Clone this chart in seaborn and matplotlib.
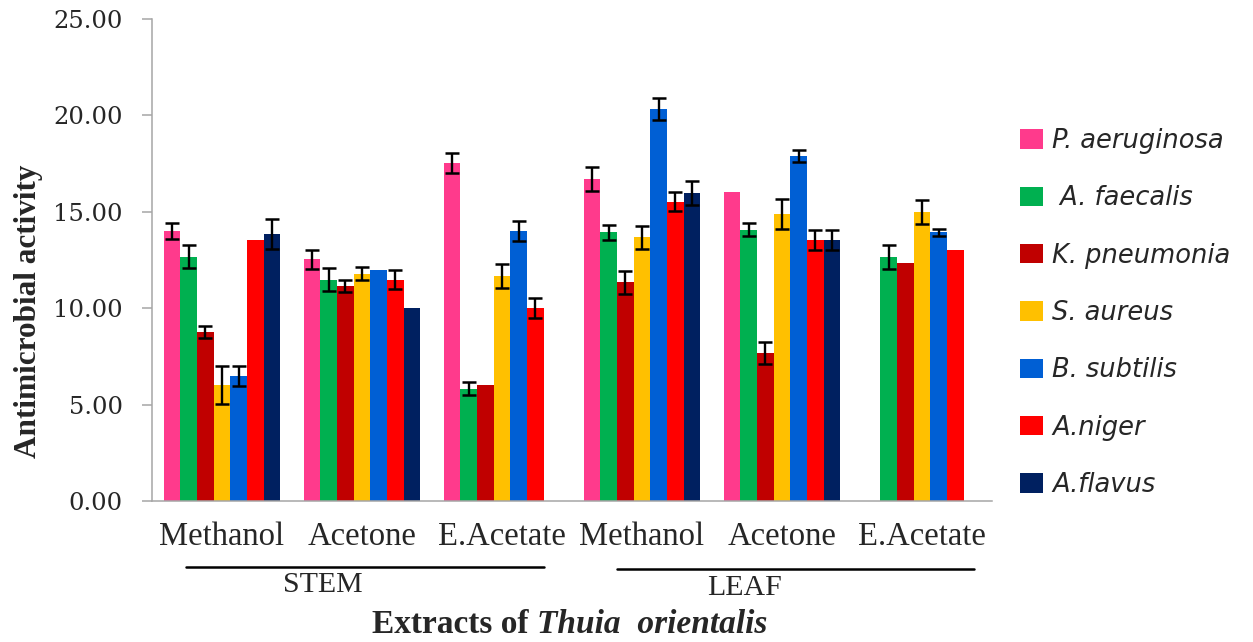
import numpy as np
import pandas as pd
import matplotlib
matplotlib.use("Agg")
import matplotlib.pyplot as plt
import seaborn as sns

# extracts (x groups) and plant part
extracts = ["Methanol", "Acetone", "E.Acetate", "Methanol", "Acetone", "E.Acetate"]
parts = ["STEM", "STEM", "STEM", "LEAF", "LEAF", "LEAF"]

species = ["P. aeruginosa", " A. faecalis", "K. pneumonia", "S. aureus",
           "B. subtilis", "A.niger", "A.flavus"]
colors = ["#FF3A8C", "#00B050", "#C00000", "#FFC000", "#005FD4", "#FF0000", "#002060"]

nan = np.nan
# mean activity, one list per organism (6 extracts each)
p_aeruginosa = [14.0, 12.53, 17.53, 16.68, 16.01, nan]
a_faecalis = [12.67, 11.48, 5.83, 13.93, 14.07, 12.67]
k_pneumonia = [8.78, 11.15, 6.0, 11.35, 7.68, 12.33]
s_aureus = [6.02, 11.79, 11.67, 13.68, 14.87, 15.0]
b_subtilis = [6.48, 12.0, 14.0, 20.32, 17.88, 13.93]
a_niger = [13.55, 11.48, 10.01, 15.52, 13.54, 13.0]
a_flavus = [13.86, 10.01, nan, 15.99, 13.54, nan]

# error (+/-), 0 = no bar drawn
p_aeruginosa_err = [0.4, 0.5, 0.5, 0.62, 0, 0]
a_faecalis_err = [0.6, 0.6, 0.32, 0.38, 0.35, 0.62]
k_pneumonia_err = [0.3, 0.3, 0, 0.6, 0.58, 0]
s_aureus_err = [1.0, 0.34, 0.6, 0.6, 0.77, 0.62]
b_subtilis_err = [0.5, 0, 0.5, 0.58, 0.3, 0.2]
a_niger_err = [0, 0.5, 0.5, 0.5, 0.52, 0]
a_flavus_err = [0.78, 0, 0, 0.62, 0.5, 0]

values = [p_aeruginosa, a_faecalis, k_pneumonia, s_aureus, b_subtilis, a_niger, a_flavus]
errors = [p_aeruginosa_err, a_faecalis_err, k_pneumonia_err, s_aureus_err,
          b_subtilis_err, a_niger_err, a_flavus_err]

keys = [p + " " + e for p, e in zip(parts, extracts)]
rows = []
for sp, vals in zip(species, values):
    for k, v in zip(keys, vals):
        rows.append({"extract": k, "organism": sp, "activity": v})
df = pd.DataFrame(rows).dropna()

sns.set_theme(style="white")
plt.rcParams["font.family"] = ["Liberation Serif", "DejaVu Sans"]

W, H = 1253, 642
fig = plt.figure(figsize=(12.53, 6.42), dpi=100)
ax = fig.add_axes([0.1213, 0.2196, 0.6704, 0.7508])

sns.barplot(data=df, x="extract", y="activity", hue="organism",
            order=keys, hue_order=species, palette=colors,
            width=0.835, errorbar=None, saturation=1, linewidth=0, ax=ax)

# error bars from the drawn bars
bar_conts = list(ax.containers)
for i, cont in enumerate(bar_conts):
    sp_i = species.index(cont.get_label()) if cont.get_label() in species else i
    for patch in cont.patches:
        cx = patch.get_x() + patch.get_width() / 2
        idx = int(round(cx))
        e = errors[sp_i][idx]
        if e > 0:
            ax.errorbar(cx, patch.get_height(), yerr=e, fmt="none", ecolor="black",
                        elinewidth=1.7, capsize=4.8, capthick=1.8, zorder=5)

leg = ax.get_legend()
handles = leg.legend_handles
labels = [t.get_text() for t in leg.get_texts()]
leg.remove()

ax.set_ylim(0, 25)
ax.set_yticks(np.arange(0, 26, 5))
ax.set_yticklabels([f"{v:.2f}" for v in np.arange(0, 26, 5)],
                   fontsize=17.5, family="DejaVu Serif")
ax.set_xlim(-0.5, 5.5)
ax.set_xticks(range(6))
ax.set_xticklabels(extracts, fontsize=23.5)
ax.set_xticks(np.arange(-0.5, 6, 1), minor=True)
ax.tick_params(axis="x", which="major", length=0, pad=15)
ax.tick_params(axis="x", which="minor", length=7, width=1.1, color="#A6A6A6", direction="out")
ax.tick_params(axis="y", length=7, width=1.1, color="#A6A6A6", direction="out", left=True, pad=14)
ax.set_xlabel("")
ax.set_ylabel("")
fig.text(29 / W, 1 - 311 / H, "Antimicrobial activity", rotation=90, ha="center", va="center",
         fontsize=22.5, fontweight="bold")

for side in ["top", "right"]:
    ax.spines[side].set_visible(False)
for side in ["left", "bottom"]:
    ax.spines[side].set_color("#A6A6A6")
    ax.spines[side].set_linewidth(1.1)

# STEM / LEAF group lines
fig.add_artist(plt.Line2D([186 / W, 544 / W], [1 - 567 / H, 1 - 567 / H], color="black", lw=1.8))
fig.add_artist(plt.Line2D([617 / W, 974 / W], [1 - 569 / H, 1 - 569 / H], color="black", lw=1.8))
fig.text(323 / W, 1 - 592 / H, "STEM", ha="center", va="baseline", fontsize=21.5)
fig.text(745 / W, 1 - 595 / H, "LEAF", ha="center", va="baseline", fontsize=21.5)

# x title: bold + bold italic
t1 = fig.text(372 / W, 1 - 633 / H, "Extracts of ", ha="left", va="baseline",
              fontsize=24, fontweight="bold")
fig.canvas.draw()
bb = t1.get_window_extent()
fig.text(bb.x1 / W, 1 - 633 / H, "Thuia  orientalis", ha="left", va="baseline",
         fontsize=24, fontweight="bold", style="italic")

fig.legend(handles, labels, loc="upper left", bbox_to_anchor=(1020 / W, 1 - 128 / H),
           frameon=False, borderpad=0, borderaxespad=0, handlelength=0.9,
           handleheight=0.78, handletextpad=0.35, labelspacing=1.22,
           prop={"family": "DejaVu Sans", "style": "italic", "size": 18.5})

fig.savefig("out.png", dpi=100)
